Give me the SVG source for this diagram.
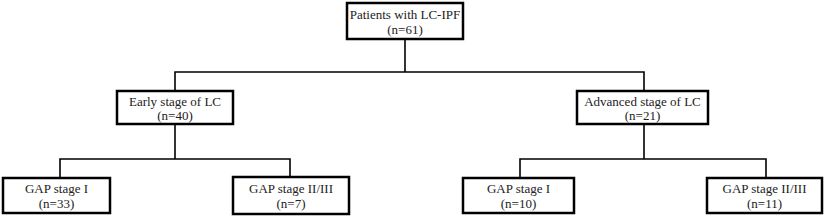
<svg xmlns="http://www.w3.org/2000/svg" width="825" height="218" viewBox="0 0 825 218">
<style>
.box{fill:#fff;stroke:#000;stroke-width:2.5}
.ln{fill:none;stroke:#000;stroke-width:1.6}
.t{font-family:'Liberation Serif','Times New Roman','DejaVu Serif',serif;font-size:13px;fill:#222;text-anchor:middle}
</style>
<rect width="825" height="218" fill="#fff"/>
<g id="connectors">
<path class="ln" d="M405,39 V72 M175,91 V72 H644 V91"/>
<path class="ln" d="M175,124 V159 M60,178 V159 H290 V177"/>
<path class="ln" d="M644,124 V159 M520,178 V159 H766 V178"/>
</g>
<g id="root">
<rect class="box" x="347" y="3" width="116" height="36"/>
<text class="t" x="405" y="19">Patients with LC-IPF</text>
<text class="t" x="405" y="34">(n=61)</text>
</g>
<g id="early">
<rect class="box" x="117" y="91" width="116" height="33"/>
<text class="t" x="175" y="106">Early stage of LC</text>
<text class="t" x="175" y="120">(n=40)</text>
</g>
<g id="advanced">
<rect class="box" x="577" y="91" width="131" height="33"/>
<text class="t" x="642.5" y="106">Advanced stage of LC</text>
<text class="t" x="642.5" y="120">(n=21)</text>
</g>
<g id="gap1-early">
<rect class="box" x="3" y="178" width="107" height="35"/>
<text class="t" x="56.5" y="193">GAP stage I</text>
<text class="t" x="56.5" y="208">(n=33)</text>
</g>
<g id="gap23-early">
<rect class="box" x="233" y="177" width="116" height="37"/>
<text class="t" x="291" y="193">GAP stage II/III</text>
<text class="t" x="291" y="208">(n=7)</text>
</g>
<g id="gap1-adv">
<rect class="box" x="463" y="178" width="111" height="35"/>
<text class="t" x="518.5" y="193">GAP stage I</text>
<text class="t" x="518.5" y="208">(n=10)</text>
</g>
<g id="gap23-adv">
<rect class="box" x="707" y="178" width="115" height="35"/>
<text class="t" x="764.5" y="193">GAP stage II/III</text>
<text class="t" x="764.5" y="208">(n=11)</text>
</g>
</svg>
